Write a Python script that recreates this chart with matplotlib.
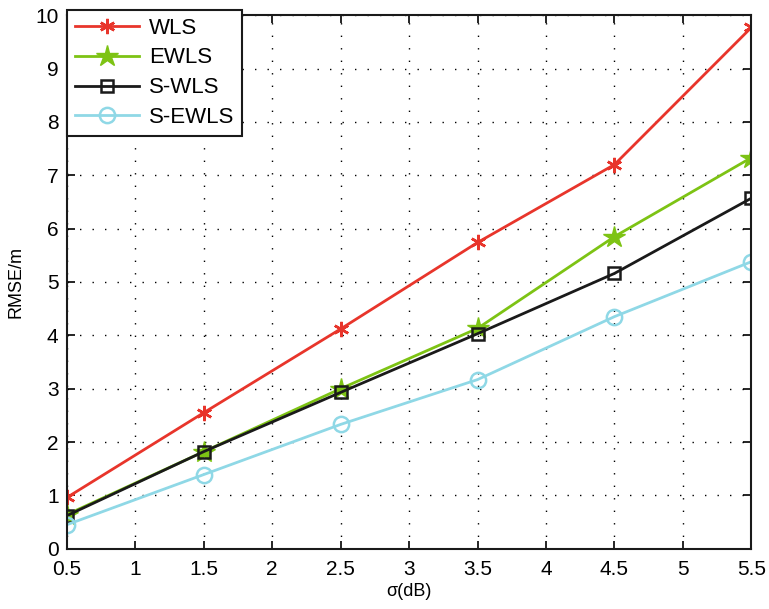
import matplotlib
matplotlib.use("Agg")
import matplotlib.pyplot as plt
import numpy as np

plt.rcParams['font.family'] = ['Liberation Sans', 'DejaVu Sans']

sigma = [0.5, 1.5, 2.5, 3.5, 4.5, 5.5]
wls = [0.96, 2.55, 4.12, 5.74, 7.20, 9.77]
ewls = [0.64, 1.82, 3.00, 4.13, 5.85, 7.33]
swls = [0.62, 1.82, 2.93, 4.03, 5.16, 6.57]
sewls = [0.45, 1.39, 2.33, 3.17, 4.35, 5.38]

fig = plt.figure(figsize=(7.69, 6.09), dpi=100)
ax = fig.add_axes([0.087, 0.099, 0.890, 0.876])

ax.plot(sigma, wls, color='#e8352b', lw=2, marker=(6, 2, 0), ms=11, mew=1.8, label='WLS')
ax.plot(sigma, ewls, color='#7dc314', lw=2, marker='*', ms=16, label='EWLS')
ax.plot(sigma, swls, color='#1a1a1a', lw=2, marker='s', ms=9, mfc='none', mew=1.8, label='S-WLS')
ax.plot(sigma, sewls, color='#8fd8e6', lw=2, marker='o', ms=11, mfc='none', mew=1.8, label='S-EWLS')

ax.set_xlim(0.5, 5.5)
ax.set_ylim(0, 10)
ax.set_xticks(np.arange(0.5, 5.51, 0.5))
ax.set_xticklabels(['0.5', '1', '1.5', '2', '2.5', '3', '3.5', '4', '4.5', '5', '5.5'])
ax.set_yticks(range(0, 11))
ax.tick_params(direction='in', labelsize=15, length=6, width=1.2, top=True, right=True)
ax.tick_params(axis='x', pad=8)
ax.tick_params(axis='y', pad=6)
ax.grid(True, color='black', linestyle=(0, (1, 8)), linewidth=1.0)
for s in ax.spines.values():
    s.set_linewidth(1.5)
    s.set_color('#1a1a1a')

ax.set_xlabel('σ(dB)', fontsize=13, labelpad=3)
ax.set_ylabel('RMSE/m', fontsize=13, labelpad=8)

leg = ax.legend(loc='upper left', bbox_to_anchor=(0.087, 0.984), bbox_transform=fig.transFigure,
                borderaxespad=0, fontsize=16, fancybox=False, edgecolor='#1a1a1a', framealpha=1,
                handlelength=2.9, borderpad=0.35, labelspacing=0.4, handletextpad=0.45)
leg.get_frame().set_linewidth(1.5)

fig.savefig('out.png', dpi=100)
